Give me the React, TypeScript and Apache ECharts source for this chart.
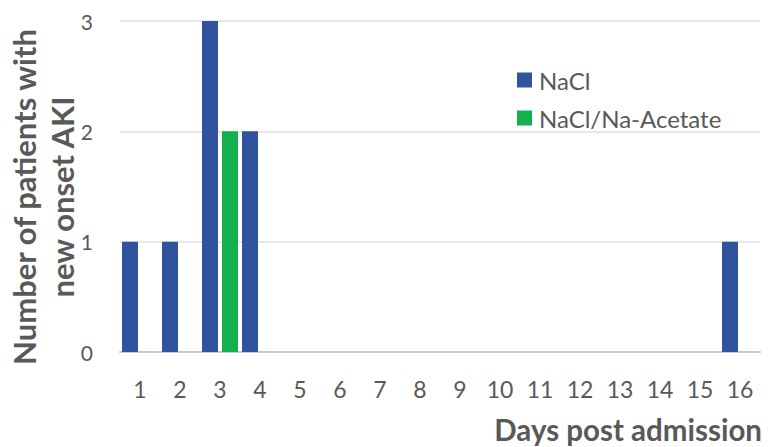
import React, { useEffect, useRef } from "react";
import * as echarts from "echarts";

const days = ["1", "2", "3", "4", "5", "6", "7", "8", "9", "10", "11", "12", "13", "14", "15", "16"];
const naclValues = [1, 1, 3, 2, 0, 0, 0, 0, 0, 0, 0, 0, 0, 0, 0, 1];
const acetateValues = [0, 0, 2, 0, 0, 0, 0, 0, 0, 0, 0, 0, 0, 0, 0, 0];
const seriesNames = ["NaCl", "NaCl/Na-Acetate"];
const yTicks = [0, 1, 2, 3];

const FONT = "Lato";
const TEXT = "#595959";

export default function App() {
  const ref = useRef<HTMLDivElement>(null);
  useEffect(() => {
    if (!ref.current) return;
    const chart = echarts.init(ref.current, null, { renderer: "svg" });
    chart.setOption({
      animation: false,
      backgroundColor: "#ffffff",
      textStyle: { fontFamily: FONT },
      grid: { left: 120, right: 12, top: 21, bottom: 95, containLabel: false },
      legend: {
        orient: "vertical",
        left: 517,
        top: 68,
        padding: 0,
        itemWidth: 15,
        itemHeight: 15,
        itemGap: 14,
        icon: "rect",
        data: seriesNames,
        textStyle: { color: TEXT, fontSize: 24, fontFamily: FONT, padding: [0, 0, 0, 2] },
      },
      xAxis: {
        type: "category",
        data: days,
        axisTick: { show: false },
        axisLine: { lineStyle: { color: "#c8c8c8", width: 2 } },
        axisLabel: { color: TEXT, fontSize: 23, margin: 25, fontFamily: FONT },
      },
      yAxis: {
        type: "value",
        min: yTicks[0],
        max: yTicks[yTicks.length - 1],
        interval: 1,
        axisLine: { show: false },
        axisTick: { show: false },
        axisLabel: { color: TEXT, fontSize: 21, margin: 27, fontFamily: FONT },
        splitLine: { lineStyle: { color: "#e0e0e0", width: 1.5 } },
      },
      graphic: [
        {
          type: "text",
          x: 43,
          y: 197,
          rotation: Math.PI / 2,
          style: {
            text: "Number of patients with\nnew onset AKI",
            fill: TEXT,
            font: `bold 31px ${FONT}`,
            lineHeight: 38,
            align: "center",
            verticalAlign: "middle",
          },
        },
        {
          type: "text",
          x: 762,
          y: 429,
          style: {
            text: "Days post admission",
            fill: TEXT,
            font: `bold 29.5px ${FONT}`,
            align: "right",
            verticalAlign: "middle",
          },
        },
      ],
      series: [
        {
          name: seriesNames[0],
          type: "bar",
          data: naclValues,
          barWidth: 16,
          barGap: "25%",
          itemStyle: { color: "#2f539c" },
        },
        {
          name: seriesNames[1],
          type: "bar",
          data: acetateValues,
          barWidth: 16,
          itemStyle: { color: "#13b04b" },
        },
      ],
    });
    return () => chart.dispose();
  }, []);
  return <div ref={ref} style={{ width: 772, height: 447, position: "absolute", left: 0, top: 0 }} />;
}
